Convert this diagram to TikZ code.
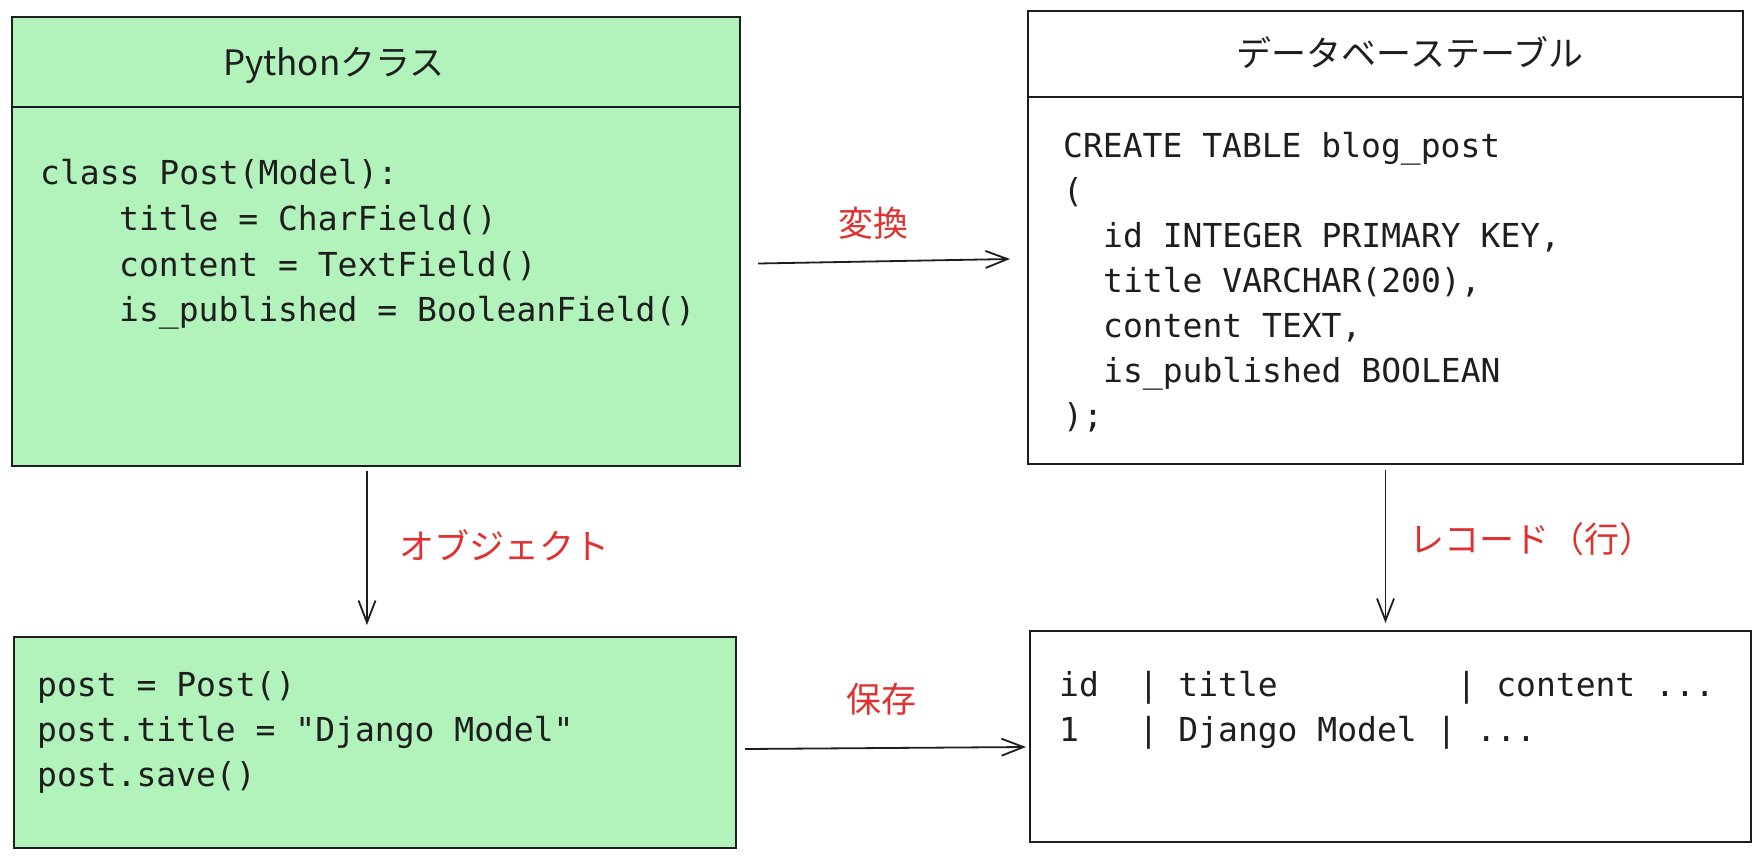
\documentclass[tikz,border=0pt]{standalone}
\usepackage{fontspec}
\setmonofont{DejaVu Sans Mono}
\newfontfamily\jpfont{Noto Sans CJK JP}
\usepackage{tikz}
\usetikzlibrary{arrows.meta,calc}
\definecolor{mint}{HTML}{B2F2BB}
\definecolor{note}{HTML}{E03131}
\definecolor{ink}{HTML}{1E1E1E}
\tikzstyle{box}=[draw=ink,line width=2pt,inner sep=0pt,anchor=north west]
\tikzstyle{py box} = [box, fill=mint]
\tikzstyle{rule} = [draw=ink,line width=2pt]
\tikzstyle{code} = [font=\ttfamily\fontsize{33}{40}\selectfont,text=ink,inner sep=0pt,anchor=base west]
\tikzstyle{head} = [font=\jpfont\fontsize{35}{40}\selectfont,text=ink,inner sep=0pt,anchor=base]
\tikzstyle{label} = [font=\jpfont\fontsize{35}{40}\selectfont,text=note,inner sep=0pt,anchor=base]
\tikzstyle{flow} = [draw=ink,line width=1.8pt,-{Straight Barb[length=22pt,width=17pt,line width=1.8pt]}]

\begin{document}
\begin{tikzpicture}[x=1pt,y=-1pt]
    \useasboundingbox (0,0) rectangle (1760,857);
    % First we draw the four boxes
    \node[py box,minimum width=728pt,minimum height=449pt] (cls) at (11,16) {};
    \node[box,minimum width=715pt,minimum height=453pt] (tbl) at (1027,10) {};
    \node[py box,minimum width=722pt,minimum height=211pt] (obj) at (13,636) {};
    \node[box,minimum width=721pt,minimum height=211pt] (rec) at (1029,630) {};

    % Headers of the two upper boxes
    \node[head] (clshead) at (334,75) {Pythonクラス};
    \path[rule] ([yshift=-91pt]cls.north west) -- ([yshift=-91pt]cls.north east);
    \node[head] (tblhead) at (1410,66) {データベーステーブル};
    \path[rule] ([yshift=-87pt]tbl.north west) -- ([yshift=-87pt]tbl.north east);

    % Code lines
    \foreach \x/\y/\txt [count=\i] in {40/184/{class Post(Model):}, 119/230/{title = CharField()},
        119/276/{content = TextField()}, 119/321/{is\_published = BooleanField()}}
        \node[code] (clsline\i) at (\x,\y) {\txt};
    \foreach \x/\y/\txt [count=\i] in {1063/157/{CREATE TABLE blog\_post}, 1063/202/{(},
        1103/247/{id INTEGER PRIMARY KEY,}, 1103/292/{title VARCHAR(200),},
        1103/337/{content TEXT,}, 1103/382/{is\_published BOOLEAN}, 1063/427/{);}}
        \node[code] (tblline\i) at (\x,\y) {\txt};
    \foreach \x/\y/\txt [count=\i] in {37/696/{post = Post()}, 37/741/{post.title = "Django Model"},
        37/786/{post.save()}}
        \node[code] (objline\i) at (\x,\y) {\txt};
    \foreach \x/\y/\txt [count=\i] in {1059/696/{id~~|~title~~~~~~~~~|~content~...},
        1059/741/{1~~~|~Django~Model~|~...}}
        \node[code] (recline\i) at (\x,\y) {\txt};

    % Connect boxes with arrows
    \path[flow] ($(cls.east)+(17,22)$) -- ($(tbl.west)+(-17,21.5)$);
    \path[flow] ($(cls.south)+(-9,4)$) -- ($(obj.north)+(-8,-11)$);
    \path[flow] ($(tbl.south)+(0,5)$) -- ($(rec.north)+(-5,-7)$);
    \path[flow] ($(obj.east)+(8,6.5)$) -- ($(rec.west)+(-3,10.5)$);

    % Arrow labels
    \node[label] (convert) at (873,236) {変換};
    \node[label,anchor=base west] (object) at (399,559) {オブジェクト};
    \node[label,anchor=base west] (record) at (1409,552) {レコード（行）};
    \node[label] (save) at (881,712) {保存};
\end{tikzpicture}
\end{document}
